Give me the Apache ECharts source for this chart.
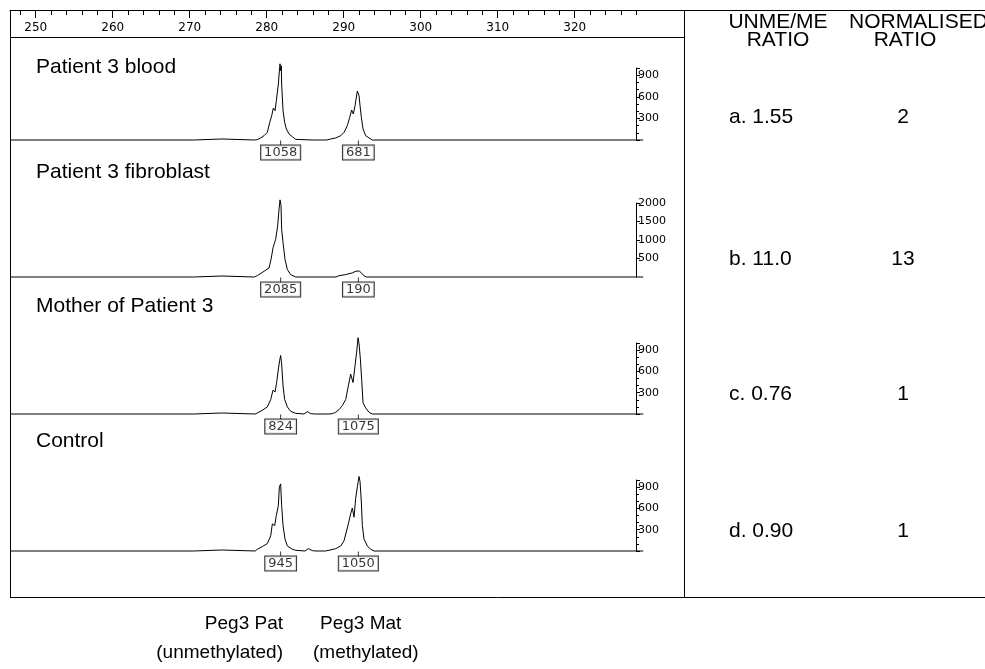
<!DOCTYPE html>
<html>
<head>
<meta charset="utf-8">
<script src="https://cdn.jsdelivr.net/npm/echarts@6/dist/echarts.min.js"></script>
<style>
html,body{margin:0;padding:0;background:#fff;overflow:hidden;}
#chart{width:985px;height:669px;}
</style>
</head>
<body>
<div id="chart"></div>
<script>
// ---- data ----
var sampleNames = ['Patient 3 blood', 'Patient 3 fibroblast', 'Mother of Patient 3', 'Control'];
var unmeMeRatio = ['a. 1.55', 'b. 11.0', 'c. 0.76', 'd. 0.90'];
var normalisedRatio = ['2', '13', '1', '1'];
var sizeTickLabels = [250, 260, 270, 280, 290, 300, 310, 320];
var sizeMinorTicks = [248, 252, 254, 256, 258, 262, 264, 266, 268, 272, 274, 276, 278, 282, 284, 286, 288, 292, 294, 296, 298, 302, 304, 306, 308, 312, 314, 316, 318, 322, 324, 326, 328];
var peakPositions = [281.81, 291.90];
var bloodPeaks = [1058, 681];
var fibroblastPeaks = [2085, 190];
var motherPeaks = [824, 1075];
var controlPeaks = [945, 1050];
var axisMax = [1000, 2000, 1000, 1000];
var axisStep = [300, 500, 300, 300];

var bloodTrace = [[246.7,0],[270.5,0],[270.6,14],[274.2,14],[274.3,0],
 [278.4,0],[278.78,5],[279.22,28],[279.65,60],[280.08,106],[280.39,245],[280.65,338],[280.86,444],[281.08,407],[281.25,546],[281.51,778],[281.68,1009],[281.73,1058],[281.81,963],[281.90,1030],[281.94,778],[282.12,407],[282.33,245],[282.55,153],[282.90,83],[283.33,46],[283.76,9],[285.9,0],
 [287.8,0],[288.31,14],[288.96,28],[289.61,60],[290.04,106],[290.47,199],[290.78,315],[291.03,417],[291.25,361],[291.47,477],[291.77,681],[291.90,662],[291.99,616],[292.12,477],[292.29,315],[292.51,153],[292.85,60],[293.29,28],[293.72,0],[328.9,0]];

var fibroblastTrace = [[246.7,0],[270.5,0],[270.6,27],[274.2,27],[274.3,0],
 [278.4,0],[278.78,36],[279.65,154],[280.30,245],[280.56,472],[280.82,790],[280.99,763],[281.16,1017],[281.42,1380],[281.60,1834],[281.73,2085],[281.86,1925],[281.94,1289],[282.12,926],[282.38,472],[282.68,200],[283.11,64],[283.76,0],
 [289.0,0],[289.39,36],[290.26,64],[290.69,91],[291.12,109],[291.47,145],[291.77,163],[291.90,190],[292.07,154],[292.29,109],[292.64,36],[292.94,0],[328.9,0]];

var motherTrace = [[246.7,0],[270.5,0],[270.6,14],[274.2,14],[274.3,0],
 [278.5,0],[278.78,14],[279.43,52],[280.08,100],[280.52,205],[280.82,338],[281.08,309],[281.29,443],[281.51,633],[281.68,752],[281.81,824],[281.94,705],[282.12,395],[282.33,205],[282.68,100],[283.11,38],[283.76,10],[284.84,0],[285.28,33],[285.71,5],[286.2,0],
 [288.1,0],[288.52,5],[288.96,24],[289.39,62],[289.82,119],[290.26,205],[290.60,395],[290.90,562],[291.21,443],[291.47,681],[291.68,871],[291.86,1075],[291.99,990],[292.16,776],[292.33,490],[292.51,157],[292.85,86],[293.29,24],[293.72,0],[328.9,0]];

var controlTrace = [[246.7,0],[270.5,0],[270.6,14],[274.2,14],[274.3,0],
 [278.5,0],[278.78,24],[279.43,62],[280.08,105],[280.52,214],[280.73,381],[281.03,357],[281.25,500],[281.51,643],[281.64,904],[281.81,945],[281.94,643],[282.12,357],[282.38,167],[282.68,71],[283.33,24],[283.76,10],[284.97,0],[285.41,33],[285.93,5],[286.4,0],
 [287.6,0],[288.09,10],[288.96,33],[289.61,71],[290.04,143],[290.26,167],[290.60,381],[290.90,524],[291.12,605],[291.34,476],[291.55,738],[291.77,904],[291.99,1050],[292.12,976],[292.29,690],[292.42,357],[292.64,167],[293.07,71],[293.50,24],[293.94,0],[328.9,0]];

var traces = [bloodTrace, fibroblastTrace, motherTrace, controlTrace];
var peakValues = [bloodPeaks, fibroblastPeaks, motherPeaks, controlPeaks];

// ---- layout ----
var PX_PER_BP = 7.7;
var FRAME_L = 10, FRAME_T = 10, DIVIDER = 684, FRAME_B = 597;
var BP_MIN = 246.66;
var panelWidth = 633;
var baselines = [140, 277, 414, 551];
var heights = [72, 74, 71, 71];
var labelY = [67, 172, 306, 441];
var ratioY = [117, 259, 394, 531];
var FONT = 'Liberation Sans, Arial, sans-serif';
var SMALL = 'DejaVu Sans, sans-serif';
var BIG = 21, BOTTOM = 19;

var grids = [], xAxes = [], yAxes = [], series = [];
for (var i = 0; i < 4; i++) {
  grids.push({left: FRAME_L, top: baselines[i] - heights[i], width: panelWidth, height: heights[i], outerBoundsMode: 'none'});
  xAxes.push({type: 'value', gridIndex: i, min: BP_MIN, max: BP_MIN + panelWidth / PX_PER_BP, show: false});
  yAxes.push({
    type: 'value', gridIndex: i, position: 'right', offset: -7,
    min: 0, max: axisMax[i], interval: axisStep[i],
    splitLine: {show: false},
    axisLine: {show: true, lineStyle: {color: '#000', width: 1}},
    axisTick: {show: true, length: 4, lineStyle: {color: '#000'}},
    minorTick: {show: i !== 1, splitNumber: 3, length: 3, lineStyle: {color: '#000'}},
    axisLabel: {
      show: true, margin: 2, color: '#000', fontSize: 11, fontFamily: SMALL,
      showMinLabel: false,
      formatter: (function (step) { return function (v) { return (v > 0 && v % step === 0) ? String(v) : ''; }; })(axisStep[i])
    }
  });
  series.push({
    type: 'line', xAxisIndex: i, yAxisIndex: i, data: traces[i],
    showSymbol: false, symbol: 'none', clip: false, silent: true,
    lineStyle: {color: '#000', width: 1}
  });
  series.push({
    type: 'scatter', xAxisIndex: i, yAxisIndex: i, silent: true,
    data: peakPositions.map(function (b, k) { return [b, 0, peakValues[i][k]]; }),
    symbol: 'rect', symbolSize: [1, 5], symbolOffset: [0, 3],
    itemStyle: {color: '#000'},
    label: {
      show: true, position: 'bottom', distance: 0,
      formatter: function (p) { return String(p.value[2]); },
      color: '#000', fontSize: 13, fontFamily: SMALL,
      backgroundColor: '#fff', borderColor: '#000', borderWidth: 1,
      padding: [1, 3, 0, 3], lineHeight: 13
    }
  });
}
// top size axis: grids whose bottom edge is the frame's top line; ticks and labels hang below it
var topMax = BP_MIN + (DIVIDER - FRAME_L) / PX_PER_BP;
for (var g = 0; g < 2; g++) {
  grids.push({left: FRAME_L, top: FRAME_T - 27, width: DIVIDER - FRAME_L, height: 27, outerBoundsMode: 'none'});
  yAxes.push({type: 'value', gridIndex: 4 + g, show: false, min: 0, max: 1});
}
xAxes.push({
  type: 'value', gridIndex: 4, position: 'bottom', min: BP_MIN, max: topMax,
  splitLine: {show: false},
  axisLine: {show: true, lineStyle: {color: '#000'}},
  axisTick: {show: true, inside: false, length: 8, customValues: sizeTickLabels, lineStyle: {color: '#000'}},
  axisLabel: {show: true, inside: false, margin: 12, customValues: sizeTickLabels, color: '#000', fontSize: 12, fontFamily: SMALL}
});
xAxes.push({
  type: 'value', gridIndex: 5, position: 'bottom', min: BP_MIN, max: topMax,
  splitLine: {show: false},
  axisLine: {show: false},
  axisTick: {show: true, inside: false, length: 5, customValues: sizeMinorTicks, lineStyle: {color: '#000'}},
  axisLabel: {show: false}
});

function hline(x1, y, x2) { return {type: 'line', silent: true, shape: {x1: x1, y1: y + 0.5, x2: x2, y2: y + 0.5}, style: {stroke: '#000', lineWidth: 1}}; }
function vline(x, y1, y2) { return {type: 'line', silent: true, shape: {x1: x + 0.5, y1: y1, x2: x + 0.5, y2: y2}, style: {stroke: '#000', lineWidth: 1}}; }
function txt(x, y, s, align, size) { return {type: 'text', silent: true, x: x, y: y, style: {text: s, fill: '#000', font: (size || BIG) + 'px ' + FONT, textAlign: align || 'left', textVerticalAlign: 'middle'}}; }

var graphics = [
  hline(FRAME_L, FRAME_T, 985), hline(FRAME_L, 37, DIVIDER), hline(FRAME_L, FRAME_B, 985),
  vline(FRAME_L, FRAME_T, FRAME_B + 1), vline(DIVIDER, FRAME_T, FRAME_B + 1),
  txt(778, 22, 'UNME/ME', 'center'), txt(778, 40, 'RATIO', 'center'),
  txt(849, 22, 'NORMALISED', 'left'), txt(905, 40, 'RATIO', 'center'),
  txt(283, 624, 'Peg3 Pat', 'right', BOTTOM), txt(283, 653, '(unmethylated)', 'right', BOTTOM),
  txt(320, 624, 'Peg3 Mat', 'left', BOTTOM), txt(313, 653, '(methylated)', 'left', BOTTOM)
];
for (var j = 0; j < 4; j++) {
  graphics.push(txt(36, labelY[j], sampleNames[j], 'left'));
  graphics.push(txt(729, ratioY[j], unmeMeRatio[j], 'left'));
  graphics.push(txt(903, ratioY[j], normalisedRatio[j], 'center'));
}

var chart = echarts.init(document.getElementById('chart'), null, {renderer: 'canvas'});
chart.setOption({
  animation: false,
  backgroundColor: '#fff',
  grid: grids, xAxis: xAxes, yAxis: yAxes, series: series,
  graphic: graphics
});
</script>
</body>
</html>
